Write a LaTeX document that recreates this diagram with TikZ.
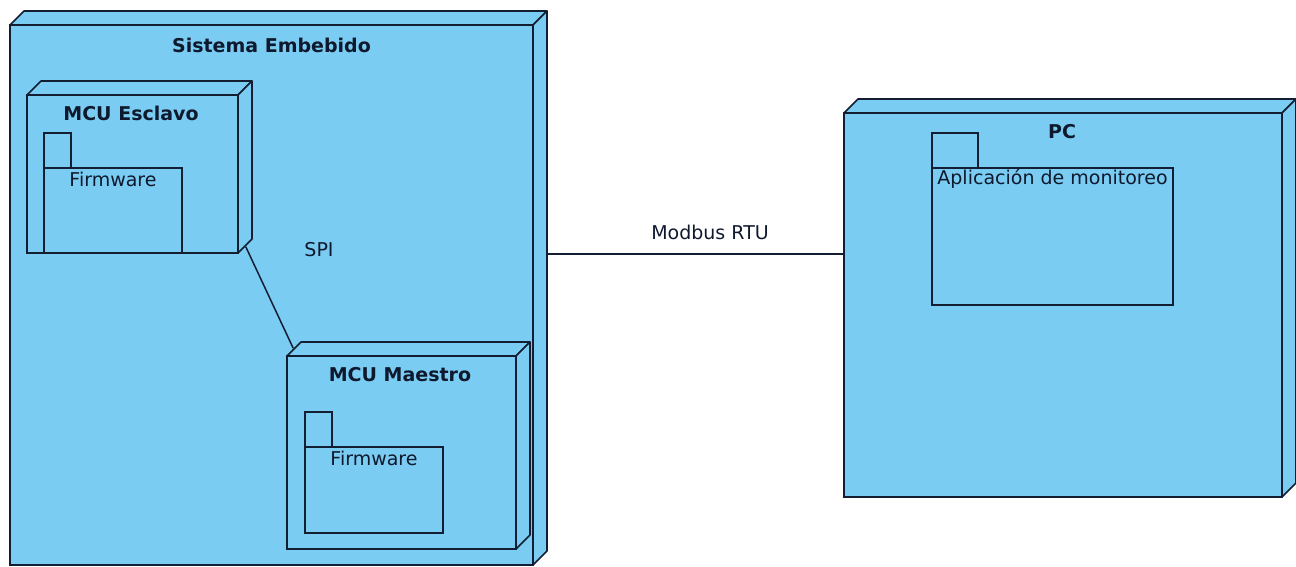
\documentclass[tikz,border=0pt]{standalone}
\usepackage{fontspec}
\setmainfont{DejaVu Sans}
\definecolor{nodefill}{RGB}{122,204,242}
\definecolor{edge}{RGB}{20,30,50}
\definecolor{txt}{RGB}{15,25,45}
\tikzset{
  front/.style={draw=edge, fill=nodefill, line width=1.6pt, inner sep=0pt, rectangle},
  face/.style={draw=edge, fill=nodefill, line width=1.6pt, line join=round},
  title/.style={font=\fontsize{19}{22}\selectfont\bfseries, text=txt, inner sep=0pt, anchor=center},
  lbl/.style={font=\fontsize{19}{22}\selectfont, text=txt, inner sep=0pt},
  conn/.style={draw=edge, line width=1.5pt},
}
\newcommand{\boxnode}[5]{% name, x1, y1, x2, y2
  \path[face] (#2,#3) -- ++(14,-14) -- (#4+14,#3-14) -- (#4,#3) -- cycle;
  \path[face] (#4,#3) -- (#4+14,#3-14) -- (#4+14,#5-14) -- (#4,#5) -- cycle;
  \node[front, minimum width=#4-#2, minimum height=#5-#3] (#1) at ({(#2+#4)/2},{(#3+#5)/2}) {};
}
\newcommand{\pkgnode}[8]{% name, tabx2, tabtop, x1, bodytop, x2, y2, text
  \node[front, minimum width=#2-#4, minimum height=#5-#3] (#1-tab) at ({(#4+#2)/2},{(#3+#5)/2}) {};
  \node[front, minimum width=#6-#4, minimum height=#7-#5] (#1) at ({(#4+#6)/2},{(#5+#7)/2}) {};
  \node[lbl, anchor=center] (#1-text) at ([yshift=-12pt]#1.north) {#8};
}
\begin{document}
\begin{tikzpicture}[x=1pt,y=-1pt]
\useasboundingbox (0,0) rectangle (1296,566);
% Sistema Embebido
\boxnode{sis}{10}{25}{533}{565}
\node[title] (sis-title) at (271.5,45) {Sistema Embebido};
% MCU Esclavo
\boxnode{esc}{27}{95}{238}{253}
\node[title] (esc-title) at (131,113) {MCU Esclavo};
\pkgnode{fw1}{71}{133}{44}{168}{182}{253}{Firmware}
% MCU Maestro
\boxnode{mae}{287}{356}{516}{549}
\node[title] (mae-title) at (400,375) {MCU Maestro};
\pkgnode{fw2}{332}{412}{305}{447}{443}{533}{Firmware}
% PC
\boxnode{pc}{844}{113}{1282}{497}
\node[title] (pc-title) at (1062,132) {PC};
\pkgnode{app}{978}{133}{932}{168}{1173}{305}{Aplicación de monitoreo}
% SPI connector
\coordinate (esc-c) at ([shift={(7,-7)}]esc.south east);
\coordinate (mae-c) at ([shift={(7,-7)}]mae.north west);
\draw[conn] (esc-c) -- (mae-c);
\node[lbl] (spi) at (319,250) {SPI};
% Modbus connector
\coordinate (sis-side) at (547,254);
\draw[conn] (sis-side) -- (sis-side -| pc.west);
\node[lbl] (modbus) at (710,232) {Modbus RTU};
\end{tikzpicture}
\end{document}
